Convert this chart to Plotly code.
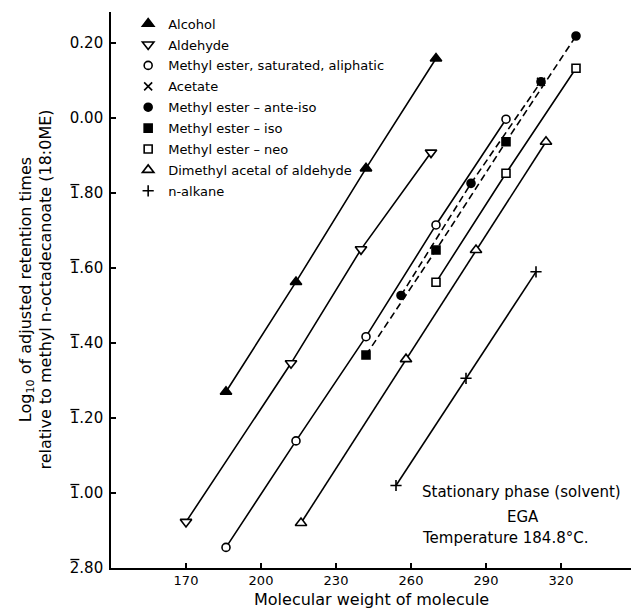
import plotly.graph_objects as go

# ---- data (molecular weight vs log10 relative retention) ----
alcohol_mw = [186, 214, 242, 270]
alcohol_y = [-0.73, -0.437, -0.134, 0.159]

aldehyde_mw = [170, 212, 240, 268]
aldehyde_y = [-1.077, -0.654, -0.35, -0.092]

ester_mw = [186, 214, 242, 270, 298]
ester_y = [-1.145, -0.861, -0.583, -0.285, -0.003]

acetate_mw = [312]
acetate_y = [0.097]

anteiso_mw = [256, 284, 312]
anteiso_y = [-0.473, -0.174, 0.097]

iso_mw = [242, 270, 298, 326]
iso_y = [-0.632, -0.352, -0.063, 0.219]

neo_mw = [270, 298, 326]
neo_y = [-0.438, -0.147, 0.133]

acetal_mw = [216, 258, 286, 314]
acetal_y = [-1.08, -0.643, -0.352, -0.063]

alkane_mw = [254, 282, 310]
alkane_y = [-0.98, -0.694, -0.41]

x_ticks = [170, 200, 230, 260, 290, 320]
y_ticks = [-1.2, -1.0, -0.8, -0.6, -0.4, -0.2, 0.0, 0.2]
y_ticktext = ["2.80", "1.00", "1.20", "1.40", "1.60", "1.80", "0.00", "0.20"]
y_bar = [True, True, True, True, True, True, False, False]  # bar (negative characteristic)

FONT = "DejaVu Sans"
BLACK = "black"

W, H = 633, 611
ML, MR, MT, MB = 111, 2, 12, 43
X_RANGE = [140, 348]
Y_RANGE = [-1.2, 0.283]
TICK_FS = 15

fig = go.Figure()

def add_series(name, xs, ys, symbol, filled, size=9, dashed=False, line=True,
               symbols=None):
    if line and len(xs) > 1:
        fig.add_trace(go.Scatter(
            x=xs, y=ys, mode="lines", showlegend=False, hoverinfo="skip",
            line=dict(color=BLACK, width=1.6,
                      dash="7px,4px" if dashed else "solid")))
    if symbol in ("x-thin", "cross-thin"):
        marker = dict(symbol=symbol, size=size, color=BLACK,
                      line=dict(color=BLACK, width=1.6))
    else:
        marker = dict(symbol=symbols if symbols else symbol, size=size,
                      color=BLACK if filled else "white",
                      line=dict(color=BLACK, width=1.6))
    fig.add_trace(go.Scatter(x=xs, y=ys, mode="markers", name=name,
                             marker=marker, legendgroup=name))

add_series("Alcohol", alcohol_mw, alcohol_y, "triangle-up", True, size=10)
add_series("Aldehyde", aldehyde_mw, aldehyde_y, "triangle-down", False, size=10)
add_series("Methyl ester, saturated, aliphatic", ester_mw, ester_y, "circle", False, size=8)
add_series("Acetate", acetate_mw, acetate_y, "x-thin", True, size=8, line=False)
add_series("Methyl ester \u2013 ante-iso", anteiso_mw, anteiso_y, "circle", True,
           size=8, dashed=True)
add_series("Methyl ester \u2013 iso", iso_mw, iso_y, "square", True, size=8,
           dashed=True, symbols=["square", "square", "square", "circle"])
add_series("Methyl ester \u2013 neo", neo_mw, neo_y, "square", False, size=8)
add_series("Dimethyl acetal of aldehyde", acetal_mw, acetal_y, "triangle-up", False, size=10)
add_series("n-alkane", alkane_mw, alkane_y, "cross-thin", True, size=8)

# overline bars above the characteristic digit of negative log tick labels
plot_w = W - ML - MR
plot_h = H - MT - MB
px_per_y = plot_h / (Y_RANGE[1] - Y_RANGE[0])
label_right = -7.5            # px from the axis line to label right edge
digit_w = 0.636 * TICK_FS
dot_w = 0.318 * TICK_FS
label_w = 3 * digit_w + dot_w
x0 = (label_right - label_w + 0.3) / plot_w
x1 = (label_right - label_w + digit_w - 0.3) / plot_w
shapes = []
for v, b in zip(y_ticks, y_bar):
    if b:
        yy = v + 8.5 / px_per_y
        shapes.append(dict(type="line", xref="paper", yref="y",
                           x0=x0, x1=x1, y0=yy, y1=yy,
                           line=dict(color=BLACK, width=1.3)))

fig.update_layout(
    width=W, height=H,
    margin=dict(l=ML, r=MR, t=MT, b=MB),
    plot_bgcolor="white", paper_bgcolor="white",
    font=dict(family=FONT, color=BLACK),
    showlegend=True,
    shapes=shapes,
    legend=dict(x=0.033, y=1.006, xanchor="left", yanchor="top",
                bgcolor="rgba(0,0,0,0)", font=dict(size=13, family=FONT),
                tracegroupgap=1, itemsizing="trace"),
    annotations=[
        dict(text="Stationary phase (solvent)", xref="paper", yref="paper",
             x=0.594, y=0.137, xanchor="left", yanchor="middle",
             showarrow=False, font=dict(size=15, family=FONT)),
        dict(text="EGA", xref="paper", yref="paper",
             x=0.792, y=0.092, xanchor="center", yanchor="middle",
             showarrow=False, font=dict(size=15, family=FONT)),
        dict(text="Temperature 184.8\u00b0C.", xref="paper", yref="paper",
             x=0.594, y=0.054, xanchor="left", yanchor="middle",
             showarrow=False, font=dict(size=15, family=FONT)),
        dict(text="Molecular weight of molecule", xref="paper", yref="paper",
             x=0.5, y=-0.0575, xanchor="center", yanchor="middle",
             showarrow=False, font=dict(size=16, family=FONT)),
        dict(text="Log<sub>10</sub> of adjusted retention times<br>"
                  "relative to methyl n-octadecanoate (18:0ME)",
             xref="paper", yref="paper", x=-0.145, y=0.5,
             xanchor="center", yanchor="middle", textangle=-90,
             showarrow=False, font=dict(size=16, family=FONT)),
    ],
)

fig.update_xaxes(range=X_RANGE, tickvals=x_ticks, ticks="inside", ticklen=5,
                 tickwidth=1.5, tickcolor=BLACK, showline=True, linecolor=BLACK,
                 linewidth=1.6, showgrid=False, zeroline=False,
                 tickfont=dict(size=13, family=FONT), ticklabelstandoff=0)
fig.update_yaxes(range=Y_RANGE, tickvals=y_ticks, ticktext=y_ticktext,
                 ticks="inside", ticklen=5, tickwidth=1.5, tickcolor=BLACK,
                 showline=True, linecolor=BLACK, linewidth=1.6, showgrid=False,
                 zeroline=False, tickfont=dict(size=TICK_FS, family=FONT),
                 ticklabelstandoff=3)

fig.write_html("out.html")
